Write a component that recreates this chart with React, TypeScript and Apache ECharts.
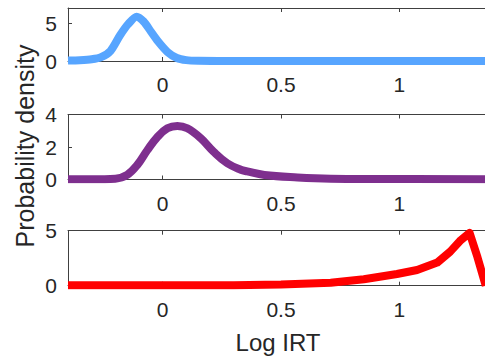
import React, { useEffect, useRef } from "react";
import * as echarts from "echarts";

// Log IRT values (x) and probability density (y)
const blueData: [number, number][] = [
  [-0.4, 0.05], [-0.35, 0.1], [-0.3, 0.22], [-0.26, 0.5], [-0.22, 1.35],
  [-0.18, 3.4], [-0.145, 4.9], [-0.11, 5.85], [-0.08, 5.2], [-0.05, 3.9],
  [-0.02, 2.6], [0.02, 1.2], [0.06, 0.4], [0.1, 0.12], [0.15, 0.03],
  [0.25, 0.01], [0.5, 0], [1.0, 0], [1.4, 0],
];
const purpleData: [number, number][] = [
  [-0.4, 0.01], [-0.3, 0.01], [-0.2, 0.05], [-0.15, 0.28], [-0.107, 0.9],
  [-0.065, 1.8], [-0.023, 2.6], [0.02, 3.15], [0.062, 3.3], [0.104, 3.15],
  [0.16, 2.55], [0.216, 1.7], [0.273, 1.0], [0.33, 0.6], [0.357, 0.5],
  [0.43, 0.28], [0.57, 0.13], [0.71, 0.05], [0.9, 0.03], [1.4, 0.02],
];
const redData: [number, number][] = [
  [-0.4, 0.05], [0.3, 0.05], [0.5, 0.1], [0.71, 0.27], [0.85, 0.58],
  [0.99, 1.06], [1.075, 1.43], [1.16, 2.1], [1.215, 3.1], [1.26, 4.15],
  [1.297, 4.8], [1.33, 2.6], [1.365, 0.0],
];

const xTicks = [0, 0.5, 1];
const yTicks1 = [0, 5];
const yTicks2 = [0, 2, 4];
const yTicks3 = [0, 5];

const TEXT = "#262626";
const AXIS = "#404040";
const FONT = "Liberation Sans";

export default function App() {
  const ref = useRef<HTMLDivElement>(null);
  useEffect(() => {
    if (!ref.current) return;
    const chart = echarts.init(ref.current, undefined, { renderer: "svg" });
    const grids = [
      { left: 68, right: 1, top: 8, height: 53 },
      { left: 68, right: 1, top: 114.5, height: 65 },
      { left: 68, right: 1, top: 230.7, height: 55 },
    ];
    const xAxis: any[] = [];
    grids.forEach((_, i) => {
      xAxis.push({
        type: "value", gridIndex: i, min: -0.4, max: 1.4, position: "bottom",
        axisLine: { show: true, onZero: false, lineStyle: { color: AXIS, width: 1 } },
        axisTick: { show: true, inside: true, length: 4, customValues: xTicks, lineStyle: { color: AXIS } },
        axisLabel: { show: true, customValues: xTicks, margin: 13, color: TEXT, fontSize: 21, fontFamily: FONT },
        splitLine: { show: false },
      });
      xAxis.push({
        type: "value", gridIndex: i, min: -0.4, max: 1.4, position: "top",
        axisLine: { show: true, onZero: false, lineStyle: { color: AXIS, width: 1 } },
        axisTick: { show: true, inside: true, length: 4, customValues: xTicks, lineStyle: { color: AXIS } },
        axisLabel: { show: false },
        splitLine: { show: false },
      });
    });
    const yDefs = [
      { max: 7, ticks: yTicks1 },
      { max: 4, ticks: yTicks2 },
      { max: 5, ticks: yTicks3 },
    ];
    const yAxis = yDefs.map((d, i) => ({
      type: "value", gridIndex: i, min: 0, max: d.max, position: "left",
      axisLine: { show: true, onZero: false, lineStyle: { color: AXIS, width: 1 } },
      axisTick: { show: true, inside: true, length: 4, customValues: d.ticks, lineStyle: { color: AXIS } },
      axisLabel: { show: true, customValues: d.ticks, margin: 11, color: TEXT, fontSize: 21, fontFamily: FONT },
      splitLine: { show: false },
    }));
    const mk = (data: [number, number][], color: string, i: number, smooth: number | boolean) => ({
      type: "line", xAxisIndex: i * 2, yAxisIndex: i, data, showSymbol: false, symbol: "none",
      smooth, clip: true,
      lineStyle: { color, width: 8, join: "round" },
    });
    chart.setOption({
      animation: false,
      grid: grids,
      xAxis,
      yAxis,
      series: [
        mk(blueData, "#57A5FF", 0, 0.25),
        mk(purpleData, "#7E2F8E", 1, 0.4),
        mk(redData, "#FF0000", 2, false),
      ],
      graphic: [
        {
          type: "text", x: 25, y: 146, rotation: Math.PI / 2,
          style: { text: "Probability density", fill: TEXT, fontSize: 25, fontFamily: FONT, align: "center", verticalAlign: "middle" },
        },
        {
          type: "text", x: 278, y: 342,
          style: { text: "Log IRT", fill: TEXT, fontSize: 24, fontFamily: FONT, align: "center", verticalAlign: "middle" },
        },
      ],
    });
    return () => chart.dispose();
  }, []);
  return (
    <div style={{ position: "absolute", left: 0, top: 0, width: 485, height: 362, overflow: "hidden", background: "#fff" }}>
      <div ref={ref} style={{ width: 495, height: 362 }} />
    </div>
  );
}
